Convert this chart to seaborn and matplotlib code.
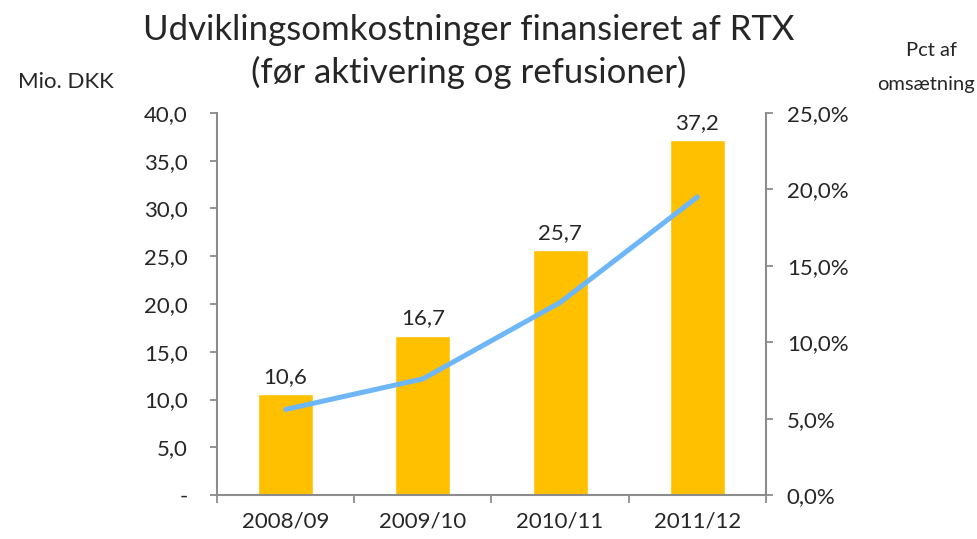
import numpy as np
import pandas as pd
import matplotlib
matplotlib.use("Agg")
import matplotlib.pyplot as plt
from matplotlib.ticker import FuncFormatter, FixedLocator
import seaborn as sns

# data
years = ["2008/09", "2009/10", "2010/11", "2011/12"]
cost_mio_dkk = [10.6, 16.7, 25.7, 37.2]
pct_of_revenue = [5.6, 7.6, 12.6, 19.5]

sns.set_style("white")
plt.rcParams['font.family'] = ['Lato', 'DejaVu Sans']

df = pd.DataFrame({"Year": years, "Cost": cost_mio_dkk, "Pct": pct_of_revenue})

fig = plt.figure(figsize=(9.78, 5.39), dpi=100)
ax = fig.add_axes([0.2219, 0.0816, 0.5613, 0.7088])

sns.barplot(data=df, x="Year", y="Cost", color="#FFC000", width=0.4,
            saturation=1, ax=ax)
ax.set_ylim(0, 40)
ax.set_xlim(-0.5, 3.5)
ax.set_yticks(np.arange(0, 41, 5))
ax.yaxis.set_major_formatter(FuncFormatter(
    lambda v, p: "-" if v == 0 else f"{v:.1f}".replace(".", ",")))
ax.set_xlabel("")
ax.set_ylabel("")

labels = [f"{v:.1f}".replace(".", ",") for v in cost_mio_dkk]
ax.bar_label(ax.containers[0], labels=labels, padding=5, fontsize=16)

ax2 = ax.twinx()
sns.lineplot(data=df, x="Year", y="Pct", color="#6DB6F8", linewidth=3.6,
             solid_capstyle="round", ax=ax2)
ax2.set_ylim(0, 25)
ax2.set_yticks(np.arange(0, 26, 5))
ax2.yaxis.set_major_formatter(FuncFormatter(
    lambda v, p: f"{v:.1f}%".replace(".", ",")))
ax2.set_xlabel("")
ax2.set_ylabel("")
ax2.set_xlim(-0.5, 3.5)

gray = "#8C8C8C"
for a in (ax, ax2):
    for s in a.spines.values():
        s.set_visible(False)
ax.spines["left"].set_visible(True)
ax.spines["bottom"].set_visible(True)
ax2.spines["right"].set_visible(True)
for name, a in (("left", ax), ("bottom", ax), ("right", ax2)):
    a.spines[name].set_color(gray)
    a.spines[name].set_linewidth(1.5)

ax.tick_params(axis="y", which="major", direction="out", length=5, width=1.3,
               color=gray, labelsize=16, pad=16, left=True)
ax2.tick_params(axis="y", which="major", direction="out", length=5, width=1.3,
                color=gray, labelsize=16, pad=10, right=True)
ax.tick_params(axis="x", which="major", length=0, labelsize=16, pad=12)
ax.xaxis.set_minor_locator(FixedLocator([-0.5, 0.5, 1.5, 2.5, 3.5]))
ax.tick_params(axis="x", which="minor", direction="out", length=6, width=1.3,
               color=gray, bottom=True)

fig.text(0.479, 0.945, "Udviklingsomkostninger finansieret af RTX",
         ha="center", va="center", fontsize=25)
fig.text(0.479, 0.865, "(før aktivering og refusioner)",
         ha="center", va="center", fontsize=25)
fig.text(0.067, 0.848, "Mio. DKK", ha="center", va="center", fontsize=16)
fig.text(0.952, 0.907, "Pct af", ha="center", va="center", fontsize=14.5)
fig.text(0.997, 0.843, "omsætning", ha="right", va="center", fontsize=14.5)

fig.savefig("out.png", dpi=100)
